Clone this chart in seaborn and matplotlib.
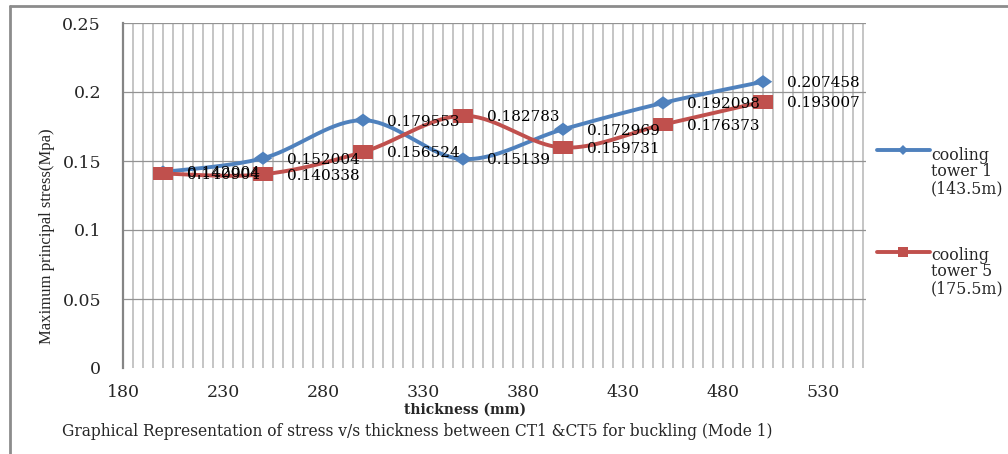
import numpy as np
import pandas as pd
import seaborn as sns
import matplotlib
matplotlib.use("Agg")
import matplotlib.pyplot as plt
from matplotlib.lines import Line2D

# Maximum principal stress (MPa) against shell thickness (mm)
thickness = [200, 250, 300, 350, 400, 450, 500]
ct1_stress = [0.142004, 0.152004, 0.179553, 0.15139, 0.172969, 0.192098, 0.207458]
ct5_stress = [0.140904, 0.140338, 0.156524, 0.182783, 0.159731, 0.176373, 0.193007]
series_names = ["cooling\ntower 1\n(143.5m)", "cooling\ntower 5\n(175.5m)"]
x_ticks = [180, 230, 280, 330, 380, 430, 480, 530]
y_ticks = [0, 0.05, 0.1, 0.15, 0.2, 0.25]

BLUE = "#4F81BD"
RED = "#C0504D"
W, H = 1008, 454

sns.set_style("white")
plt.rcParams["font.family"] = ["DejaVu Serif"]


def smooth_path(xs, ys, n=40):
    """Piecewise cubic Bezier through the points (spreadsheet-style smoothed line)."""
    p = np.column_stack([xs, ys]).astype(float)
    out = []
    for i in range(len(p) - 1):
        p0 = p[i - 1] if i > 0 else p[i]
        p1, p2 = p[i], p[i + 1]
        p3 = p[i + 2] if i + 2 < len(p) else p[i + 1]
        c1 = p1 + (p2 - p0) / 6.0
        c2 = p2 - (p3 - p1) / 6.0
        t = np.linspace(0, 1, n)[:, None]
        seg = ((1 - t) ** 3) * p1 + 3 * ((1 - t) ** 2) * t * c1 + 3 * (1 - t) * t ** 2 * c2 + t ** 3 * p2
        out.append(seg if i == 0 else seg[1:])
    pts = np.vstack(out)
    return pts[:, 0], pts[:, 1]


fig = plt.figure(figsize=(W / 100, H / 100), dpi=100)
ax = fig.add_axes([123 / W, 1 - 368 / H, (866 - 123) / W, (368 - 23) / H])

diamond = [(-1, 0), (0, 0.72), (1, 0), (0, -0.72), (-1, 0)]
square = [(-1, -0.72), (1, -0.72), (1, 0.72), (-1, 0.72), (-1, -0.72)]

for ys, color, mk, size in [(ct1_stress, BLUE, diamond, 175), (ct5_stress, RED, square, 190)]:
    sx, sy = smooth_path(thickness, ys)
    curve = pd.DataFrame({"x": sx, "y": sy})
    sns.lineplot(data=curve, x="x", y="y", sort=False, estimator=None,
                 color=color, linewidth=2.8, ax=ax, zorder=3)
    sns.scatterplot(x=thickness, y=ys, marker=mk, s=size, color=color,
                    edgecolor="none", linewidth=0, ax=ax, zorder=4)
    for xv, yv in zip(thickness, ys):
        ax.annotate(f"{yv:g}", (xv, yv), xytext=(17, -1), textcoords="offset points",
                    ha="left", va="center", fontsize=11, color="black", zorder=5)

ax.set_xlim(180, 551.5)
ax.set_ylim(0, 0.25)
ax.set_xticks(x_ticks)
ax.set_xticklabels([str(v) for v in x_ticks])
ax.set_xticks(np.arange(180, 552, 5), minor=True)
ax.set_yticks(y_ticks)
ax.set_yticklabels([f"{v:g}" for v in y_ticks])

ax.grid(which="both", axis="x", color="#c0c0c0", linewidth=1.3, zorder=1)
ax.grid(which="major", axis="y", color="#939393", linewidth=0.9, zorder=1)
ax.yaxis.get_gridlines()[0].set_visible(False)
ax.set_axisbelow(True)

for side in ["top", "right", "bottom"]:
    ax.spines[side].set_visible(False)
ax.spines["left"].set_color("#858585")
ax.spines["left"].set_linewidth(1.6)

ax.tick_params(axis="y", which="major", direction="out", length=5.8, width=0.9,
               color="#939393", pad=10, labelsize=12.5)
ax.tick_params(axis="x", which="major", direction="out", length=4.3, width=1.0,
               color="#808080", pad=7, labelsize=12.5)
ax.tick_params(axis="x", which="minor", length=0)
ax.set_xlabel("")
ax.set_ylabel("")

# Axis titles and caption
fig.text(47 / W, 1 - 236 / H, "Maximum principal stress(Mpa)", rotation=90,
         ha="center", va="center", fontsize=12, family=["Liberation Serif"])
fig.text(465 / W, 1 - 410 / H, "thickness (mm)", ha="center", va="center",
         fontsize=10, fontweight="bold")
fig.text(62 / W, 1 - 431 / H,
         "Graphical Representation of stress v/s thickness between CT1 &CT5 for buckling (Mode 1)",
         ha="left", va="center", fontsize=11.2)

# Legend keys drawn beside the plot area
legend_rows = [(BLUE, "D", 5.5, 150, 172), (RED, "s", 6.5, 252, 272)]
for (color, mk, ms, ly, ty), name in zip(legend_rows, series_names):
    fig.add_artist(Line2D([877 / W, 930 / W], [1 - ly / H, 1 - ly / H], color=color,
                          linewidth=2.8, transform=fig.transFigure))
    fig.add_artist(Line2D([903 / W], [1 - ly / H], marker=mk, markersize=ms, color=color,
                          markeredgewidth=0, linestyle="none", transform=fig.transFigure))
    fig.text(931 / W, 1 - ty / H, name, ha="left", va="center", fontsize=11.3,
             linespacing=1.0)

# Chart frame
frame_kw = dict(color="#8c8c8c", linewidth=2.0, transform=fig.transFigure)
fig.add_artist(Line2D([10 / W, 1.0], [1 - 6 / H, 1 - 6 / H], **frame_kw))
fig.add_artist(Line2D([10 / W, 10 / W], [0.0, 1 - 6 / H], **frame_kw))

fig.savefig("out.png", dpi=100)
